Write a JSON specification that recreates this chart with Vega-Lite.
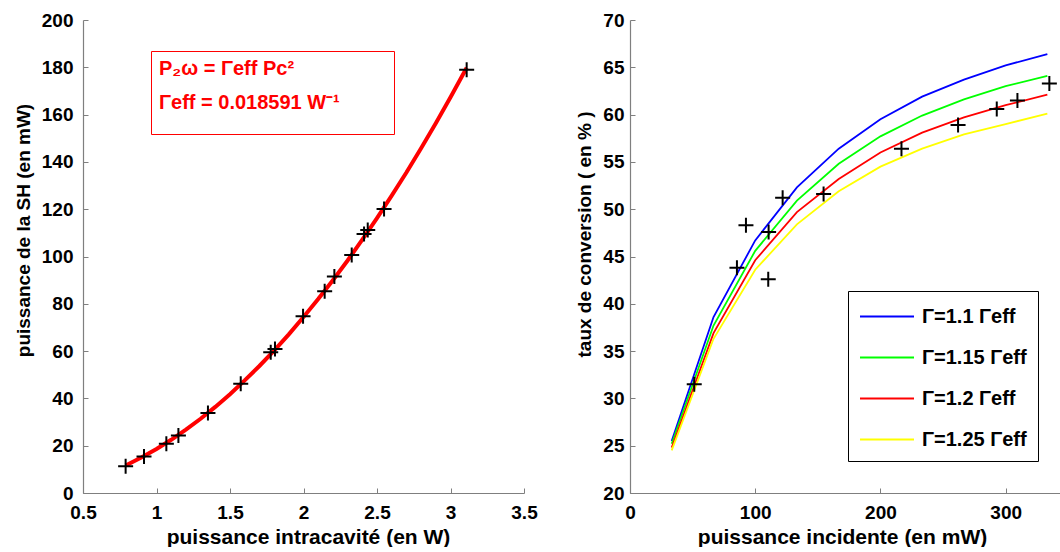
{
  "$schema": "https://vega.github.io/schema/vega-lite/v6.json",
  "padding": {"left": 14, "top": 11, "right": 0, "bottom": 0},
  "background": "white",
  "spacing": 37,
  "datasets": {
    "shPoints": [
      {"P": 0.790, "SH": 11.3}, {"P": 0.915, "SH": 15.4}, {"P": 1.067, "SH": 20.8},
      {"P": 1.149, "SH": 24.3}, {"P": 1.350, "SH": 33.8}, {"P": 1.573, "SH": 46.2},
      {"P": 1.777, "SH": 59.5}, {"P": 1.806, "SH": 60.9}, {"P": 1.997, "SH": 74.7},
      {"P": 2.144, "SH": 85.3}, {"P": 2.210, "SH": 91.5}, {"P": 2.328, "SH": 100.6},
      {"P": 2.412, "SH": 109.5}, {"P": 2.437, "SH": 111.2}, {"P": 2.548, "SH": 120.1},
      {"P": 3.110, "SH": 179.0}
    ],
    "shFit": [
      {"P": 0.79, "SH": 11.6, "s": "fit"}, {"P": 0.9, "SH": 15.1, "s": "fit"}, {"P": 1.0, "SH": 18.6, "s": "fit"},
      {"P": 1.1, "SH": 22.5, "s": "fit"}, {"P": 1.2, "SH": 26.8, "s": "fit"}, {"P": 1.3, "SH": 31.4, "s": "fit"},
      {"P": 1.4, "SH": 36.4, "s": "fit"}, {"P": 1.5, "SH": 41.8, "s": "fit"}, {"P": 1.6, "SH": 47.6, "s": "fit"},
      {"P": 1.7, "SH": 53.7, "s": "fit"}, {"P": 1.8, "SH": 60.2, "s": "fit"}, {"P": 1.9, "SH": 67.1, "s": "fit"},
      {"P": 2.0, "SH": 74.4, "s": "fit"}, {"P": 2.1, "SH": 82.0, "s": "fit"}, {"P": 2.2, "SH": 90.0, "s": "fit"},
      {"P": 2.3, "SH": 98.3, "s": "fit"}, {"P": 2.4, "SH": 107.1, "s": "fit"}, {"P": 2.5, "SH": 116.2, "s": "fit"},
      {"P": 2.6, "SH": 125.7, "s": "fit"}, {"P": 2.7, "SH": 135.5, "s": "fit"}, {"P": 2.8, "SH": 145.8, "s": "fit"},
      {"P": 2.9, "SH": 156.3, "s": "fit"}, {"P": 3.0, "SH": 167.3, "s": "fit"}, {"P": 3.11, "SH": 179.8, "s": "fit"}
    ],
    "convPoints": [
      {"Pin": 51.3, "eta": 31.5}, {"Pin": 85.4, "eta": 43.8}, {"Pin": 92.6, "eta": 48.3},
      {"Pin": 110.4, "eta": 42.6}, {"Pin": 110.7, "eta": 47.6}, {"Pin": 121.9, "eta": 51.2},
      {"Pin": 154.6, "eta": 51.6}, {"Pin": 216.8, "eta": 56.4}, {"Pin": 262.0, "eta": 58.9},
      {"Pin": 292.9, "eta": 60.6}, {"Pin": 309.4, "eta": 61.5}, {"Pin": 334.9, "eta": 63.3}
    ],
    "convCurves": [
      {"g": "Γ=1.1 Γeff", "Pin": 33.3, "eta": 25.5}, {"g": "Γ=1.1 Γeff", "Pin": 66.7, "eta": 38.6},
      {"g": "Γ=1.1 Γeff", "Pin": 100.0, "eta": 46.7}, {"g": "Γ=1.1 Γeff", "Pin": 133.3, "eta": 52.3},
      {"g": "Γ=1.1 Γeff", "Pin": 166.7, "eta": 56.4}, {"g": "Γ=1.1 Γeff", "Pin": 200.0, "eta": 59.5},
      {"g": "Γ=1.1 Γeff", "Pin": 233.3, "eta": 61.9}, {"g": "Γ=1.1 Γeff", "Pin": 266.7, "eta": 63.7},
      {"g": "Γ=1.1 Γeff", "Pin": 300.0, "eta": 65.2}, {"g": "Γ=1.1 Γeff", "Pin": 333.3, "eta": 66.4},
      {"g": "Γ=1.15 Γeff", "Pin": 33.3, "eta": 25.2}, {"g": "Γ=1.15 Γeff", "Pin": 66.7, "eta": 37.7},
      {"g": "Γ=1.15 Γeff", "Pin": 100.0, "eta": 45.6}, {"g": "Γ=1.15 Γeff", "Pin": 133.3, "eta": 50.9},
      {"g": "Γ=1.15 Γeff", "Pin": 166.7, "eta": 54.8}, {"g": "Γ=1.15 Γeff", "Pin": 200.0, "eta": 57.7},
      {"g": "Γ=1.15 Γeff", "Pin": 233.3, "eta": 59.9}, {"g": "Γ=1.15 Γeff", "Pin": 266.7, "eta": 61.6},
      {"g": "Γ=1.15 Γeff", "Pin": 300.0, "eta": 63.0}, {"g": "Γ=1.15 Γeff", "Pin": 333.3, "eta": 64.1},
      {"g": "Γ=1.2 Γeff", "Pin": 33.3, "eta": 24.8}, {"g": "Γ=1.2 Γeff", "Pin": 66.7, "eta": 36.9},
      {"g": "Γ=1.2 Γeff", "Pin": 100.0, "eta": 44.6}, {"g": "Γ=1.2 Γeff", "Pin": 133.3, "eta": 49.7},
      {"g": "Γ=1.2 Γeff", "Pin": 166.7, "eta": 53.2}, {"g": "Γ=1.2 Γeff", "Pin": 200.0, "eta": 56.0},
      {"g": "Γ=1.2 Γeff", "Pin": 233.3, "eta": 58.1}, {"g": "Γ=1.2 Γeff", "Pin": 266.7, "eta": 59.7},
      {"g": "Γ=1.2 Γeff", "Pin": 300.0, "eta": 61.0}, {"g": "Γ=1.2 Γeff", "Pin": 333.3, "eta": 62.1},
      {"g": "Γ=1.25 Γeff", "Pin": 33.3, "eta": 24.5}, {"g": "Γ=1.25 Γeff", "Pin": 66.7, "eta": 36.3},
      {"g": "Γ=1.25 Γeff", "Pin": 100.0, "eta": 43.6}, {"g": "Γ=1.25 Γeff", "Pin": 133.3, "eta": 48.4},
      {"g": "Γ=1.25 Γeff", "Pin": 166.7, "eta": 51.9}, {"g": "Γ=1.25 Γeff", "Pin": 200.0, "eta": 54.5},
      {"g": "Γ=1.25 Γeff", "Pin": 233.3, "eta": 56.4}, {"g": "Γ=1.25 Γeff", "Pin": 266.7, "eta": 57.9},
      {"g": "Γ=1.25 Γeff", "Pin": 300.0, "eta": 59.0}, {"g": "Γ=1.25 Γeff", "Pin": 333.3, "eta": 60.1}
    ]
  },
  "hconcat": [
    {
      "width": 441,
      "height": 473,
      "layer": [
        {
          "data": {"name": "shFit"},
          "mark": {"type": "line", "strokeWidth": 4},
          "encoding": {
            "x": {"field": "P", "type": "quantitative",
                  "scale": {"domain": [0.5, 3.5], "nice": false, "zero": false},
                  "axis": {"title": "puissance intracavité (en W)", "values": [0.5, 1, 1.5, 2, 2.5, 3, 3.5], "format": "~f", "titleX": 225}},
            "y": {"field": "SH", "type": "quantitative",
                  "scale": {"domain": [0, 200], "nice": false},
                  "axis": {"title": "puissance de la SH (en mW)", "values": [0, 20, 40, 60, 80, 100, 120, 140, 160, 180, 200], "format": "~f", "titleFontSize": 19, "titlePadding": 8, "titleY": 210}},
            "color": {"field": "s", "type": "nominal",
                      "scale": {"domain": ["fit", "pad"], "range": ["#ff0000", "#ff0000"]},
                      "legend": {
                        "orient": "none", "legendX": 68, "legendY": 31,
                        "title": "P₂ω = Γeff Pc²",
                        "titleColor": "#ff0000", "titleFontSize": 20, "titleFont": "Liberation Sans", "titleFontWeight": "bold",
                        "titlePadding": 1,
                        "strokeColor": "#ff0000", "padding": 8,
                        "columns": 2, "columnPadding": -6,
                        "symbolType": "square", "symbolOpacity": 0, "symbolStrokeWidth": 0, "symbolSize": 2116,
                        "labelOffset": -46,
                        "labelColor": "#ff0000", "labelFontSize": 20, "labelFont": "Liberation Sans", "labelFontWeight": "bold",
                        "labelExpr": "datum.value == 'fit' ? 'Γeff = 0.018591 W⁻¹' : ''", "labelLimit": 400
                      }}
          }
        },
        {
          "data": {"name": "shPoints"},
          "mark": {"type": "point", "shape": "M-1,0L1,0M0,-1L0,1", "filled": false, "size": 225, "strokeWidth": 2, "color": "black", "opacity": 1},
          "encoding": {
            "x": {"field": "P", "type": "quantitative"},
            "y": {"field": "SH", "type": "quantitative"}
          }
        }
      ]
    },
    {
      "width": 432,
      "height": 473,
      "layer": [
        {
          "data": {"name": "convCurves"},
          "mark": {"type": "line", "strokeWidth": 1.8},
          "encoding": {
            "x": {"field": "Pin", "type": "quantitative",
                  "scale": {"domain": [0, 345], "nice": false},
                  "axis": {"title": "puissance incidente (en mW)", "values": [0, 100, 200, 300], "format": "~f", "titleX": 212}},
            "y": {"field": "eta", "type": "quantitative",
                  "scale": {"domain": [20, 70], "nice": false, "zero": false},
                  "axis": {"title": "taux de conversion ( en % )", "values": [20, 25, 30, 35, 40, 45, 50, 55, 60, 65, 70], "format": "~f", "labelPadding": 11, "titleFontSize": 19, "titlePadding": 8, "titleY": 214}},
            "color": {"field": "g", "type": "nominal",
                      "scale": {"domain": ["Γ=1.1 Γeff", "Γ=1.15 Γeff", "Γ=1.2 Γeff", "Γ=1.25 Γeff"],
                                "range": ["#0000ff", "#00ff00", "#ff0000", "#ffff00"]},
                      "legend": {
                        "orient": "none", "legendX": 218, "legendY": 271,
                        "title": null,
                        "strokeColor": "black", "fillColor": "white", "padding": 11,
                        "symbolType": "M-1,0L3,0", "symbolSize": 729, "symbolStrokeWidth": 2,
                        "labelOffset": 34, "rowPadding": 16,
                        "labelFontSize": 20, "labelFont": "Liberation Sans", "labelFontWeight": "bold", "labelColor": "black",
                        "labelLimit": 300
                      }}
          }
        },
        {
          "data": {"name": "convPoints"},
          "mark": {"type": "point", "shape": "M-1,0L1,0M0,-1L0,1", "filled": false, "size": 225, "strokeWidth": 2, "color": "black", "opacity": 1},
          "encoding": {
            "x": {"field": "Pin", "type": "quantitative"},
            "y": {"field": "eta", "type": "quantitative"}
          }
        }
      ]
    }
  ],
  "resolve": {"scale": {"color": "independent"}},
  "config": {
    "font": "Liberation Sans",
    "view": {"stroke": null},
    "axis": {
      "grid": false,
      "domainColor": "#7f7f7f",
      "domainWidth": 1.2,
      "tickColor": "#7f7f7f",
      "tickSize": -5,
      "labelPadding": 15,
      "labelFont": "Liberation Sans",
      "labelFontSize": 19,
      "labelFontWeight": "bold",
      "labelColor": "black",
      "titleFont": "Liberation Sans",
      "titleFontSize": 21,
      "titleFontWeight": "bold",
      "titleColor": "black",
      "titlePadding": 4,
      "labelFlush": false,
      "labelOverlap": false
    }
  }
}
